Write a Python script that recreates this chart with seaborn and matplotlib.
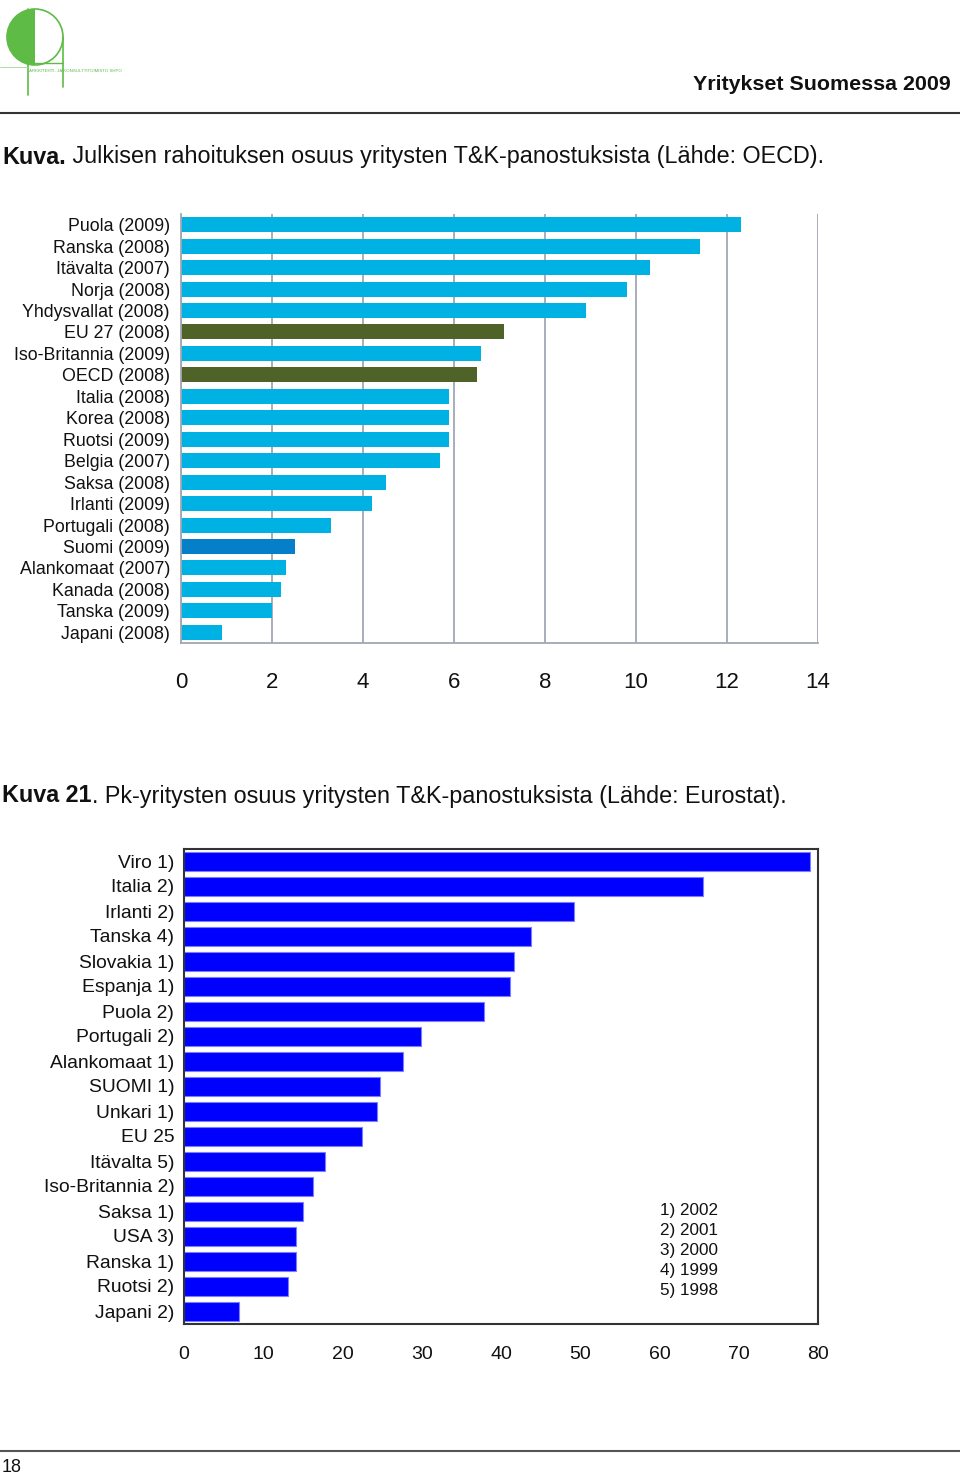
import matplotlib
matplotlib.use("Agg")
import matplotlib.pyplot as plt
import seaborn as sns
import pandas as pd
from matplotlib.patches import Wedge, Circle

sns.set_theme(style="white")
plt.rcParams['font.family'] = ['Liberation Sans', 'DejaVu Sans']

# ---------------- data ----------------
oecd_countries = ["Puola (2009)", "Ranska (2008)", "Itävalta (2007)", "Norja (2008)",
                  "Yhdysvallat (2008)", "EU 27 (2008)", "Iso-Britannia (2009)", "OECD (2008)",
                  "Italia (2008)", "Korea (2008)", "Ruotsi (2009)", "Belgia (2007)",
                  "Saksa (2008)", "Irlanti (2009)", "Portugali (2008)", "Suomi (2009)",
                  "Alankomaat (2007)", "Kanada (2008)", "Tanska (2009)", "Japani (2008)"]
oecd_values = [12.3, 11.4, 10.3, 9.8, 8.9, 7.1, 6.6, 6.5, 5.9, 5.9, 5.9, 5.7,
               4.5, 4.2, 3.3, 2.5, 2.3, 2.2, 2.0, 0.9]
oecd_group = ["maa"] * 5 + ["ryhmä"] + ["maa"] + ["ryhmä"] + ["maa"] * 7 + ["Suomi"] + ["maa"] * 4
oecd_ticks = [0, 2, 4, 6, 8, 10, 12, 14]

pk_countries = ["Viro 1)", "Italia 2)", "Irlanti 2)", "Tanska 4)", "Slovakia 1)",
                "Espanja 1)", "Puola 2)", "Portugali 2)", "Alankomaat 1)", "SUOMI 1)",
                "Unkari 1)", "EU 25", "Itävalta 5)", "Iso-Britannia 2)", "Saksa 1)",
                "USA 3)", "Ranska 1)", "Ruotsi 2)", "Japani 2)"]
pk_values = [79.0, 65.5, 49.2, 43.8, 41.6, 41.1, 37.9, 29.9, 27.6, 24.7,
             24.4, 22.4, 17.8, 16.3, 15.0, 14.1, 14.1, 13.1, 6.9]
pk_ticks = [0, 10, 20, 30, 40, 50, 60, 70, 80]
pk_notes = ["1) 2002", "2) 2001", "3) 2000", "4) 1999", "5) 1998"]

header = "Yritykset Suomessa 2009"
title1_bold = "Kuva."
title1_rest = " Julkisen rahoituksen osuus yritysten T&K-panostuksista (Lähde: OECD)."
title2_bold = "Kuva 21"
title2_rest = ". Pk-yritysten osuus yritysten T&K-panostuksista (Lähde: Eurostat)."
page_no = "18"

# ---------------- figure ----------------
W, H = 960, 1475
fig = plt.figure(figsize=(W / 100, H / 100), dpi=100)
fig.patch.set_facecolor("white")


def px_axes(x0, y0, x1, y1, **kw):
    return fig.add_axes([x0 / W, 1 - y1 / H, (x1 - x0) / W, (y1 - y0) / H], **kw)


# page overlay axes for decorations (drawn behind the charts)
page = px_axes(0, 0, W, H)
page.set_xlim(0, W)
page.set_ylim(H, 0)
page.axis("off")
page.set_zorder(-1)

# logo
green = "#5DBB46"
page.add_patch(Wedge((35, 37), 28, 90, 270, facecolor=green, edgecolor="none"))
page.add_patch(Circle((35, 37), 28, facecolor="none", edgecolor=green, lw=1.2))
page.plot([28, 28], [9, 95], color=green, lw=1.2)
page.plot([63, 63], [37, 87], color=green, lw=1.2)
page.plot([28, 63], [63, 63], color=green, lw=1.0)
page.plot([0, 28], [67, 67], color="#9fd890", lw=0.6)
page.text(29, 71, "ARKKITEHTI- JA KONSULTTITOIMISTO SHPO", fontsize=3.2, color=green,
          va="center", ha="left")

# header
page.text(951, 84, header, fontsize=15.4, fontweight="bold", ha="right", va="center", color="#111111")
page.plot([0, 960], [113, 113], color="#333333", lw=1.5)
page.plot([0, 960], [1451, 1451], color="#555555", lw=1.5)
page.text(2, 1467, page_no, fontsize=13, ha="left", va="center", color="#111111")

renderer = fig.canvas.get_renderer()


def two_part_title(y, bold, rest, size):
    t = page.text(2, y, bold, fontsize=size, fontweight="bold", ha="left", va="center", color="#111111")
    bb = t.get_window_extent(renderer=renderer)
    page.text(2 + bb.width, y, rest, fontsize=size, ha="left", va="center", color="#111111")


two_part_title(157, title1_bold, title1_rest, 16.8)
two_part_title(796, title2_bold, title2_rest, 16.8)

# ---------------- chart 1 ----------------
ax1 = px_axes(181, 214, 818, 643)
df1 = pd.DataFrame({"maa": oecd_countries, "arvo": oecd_values, "ryhma": oecd_group})
pal1 = {"maa": "#00B2E3", "ryhmä": "#4F6228", "Suomi": "#0580C8"}
sns.barplot(data=df1, x="arvo", y="maa", hue="ryhma", palette=pal1, orient="h",
            width=0.7, saturation=1, legend=False, dodge=False, ax=ax1, linewidth=0)
ax1.set_xlim(0, 14)
ax1.set_ylim(len(oecd_countries) - 0.5, -0.5)
ax1.set_xticks(oecd_ticks)
ax1.set_xticklabels([str(t) for t in oecd_ticks])
ax1.set_xlabel("")
ax1.set_ylabel("")
ax1.set_axisbelow(True)
ax1.xaxis.grid(True, color="#A2A7B4", lw=1.3)
ax1.yaxis.grid(False)
for s in ["top", "right"]:
    ax1.spines[s].set_visible(False)
for s in ["left", "bottom"]:
    ax1.spines[s].set_color("#A2A7B4")
    ax1.spines[s].set_linewidth(1.3)
ax1.tick_params(axis="x", which="major", length=4, width=1.3, color="#A2A7B4",
                direction="out", pad=17, labelsize=16, labelcolor="#111111")
ax1.tick_params(axis="y", which="major", length=0, pad=8, labelsize=12.8, labelcolor="#111111")
ax1.set_yticks([i - 0.5 for i in range(len(oecd_countries) + 1)], minor=True)
ax1.tick_params(axis="y", which="minor", length=4, width=1.2, color="#A2A7B4", direction="out")

# ---------------- chart 2 ----------------
ax2 = px_axes(184, 848.5, 818, 1323.5)
df2 = pd.DataFrame({"maa": pk_countries, "arvo": pk_values})
sns.barplot(data=df2, x="arvo", y="maa", color="#0000FF", orient="h", width=0.76,
            saturation=1, ax=ax2, edgecolor="#7d7dff", linewidth=0.8)
ax2.set_xlim(0, 80)
ax2.set_ylim(len(pk_countries) - 0.5, -0.5)
ax2.set_xticks(pk_ticks)
ax2.set_xticklabels([str(t) for t in pk_ticks])
ax2.set_xlabel("")
ax2.set_ylabel("")
ax2.grid(False)
for s in ax2.spines.values():
    s.set_visible(True)
    s.set_color("#333333")
    s.set_linewidth(1.5)
ax2.tick_params(axis="x", which="major", length=4, width=1.2, color="#333333",
                direction="out", pad=12, labelsize=14, labelcolor="#111111")
ax2.tick_params(axis="y", which="major", length=0, pad=7, labelsize=13.9, labelcolor="#111111")
ax2.set_yticks([i - 0.5 for i in range(len(pk_countries) + 1)], minor=True)
ax2.tick_params(axis="y", which="minor", length=4, width=1.2, color="#333333", direction="out")

# year notes inside the second chart, one per line, 20 px apart
for i, note in enumerate(pk_notes):
    fig.text(660 / W, 1 - (1210 + 20 * i) / H, note, fontsize=12.3, ha="left", va="center",
             color="#111111", zorder=10)

fig.savefig("out.png", dpi=100, facecolor="white")
